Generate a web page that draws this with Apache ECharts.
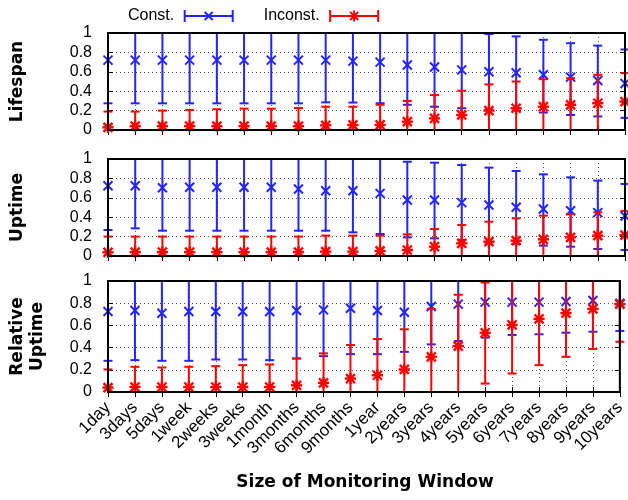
<!DOCTYPE html>
<html>
<head>
<meta charset="utf-8">
<script src="https://cdn.jsdelivr.net/npm/echarts@6/dist/echarts.min.js"></script>
<style>
html,body{margin:0;padding:0;background:#fff;}
#c{width:628px;height:500px;}
</style>
</head>
<body>
<div id="c"></div>
<script>
// ---------------- DATA ----------------
const categories = ['1day','3days','5days','1week','2weeks','3weeks','1month','3months','6months','9months','1year','2years','3years','4years','5years','6years','7years','8years','9years','10years'];
const yTickLabels = ['0','0.2','0.4','0.6','0.8','1'];
const seriesNames = ['Const.','Inconst.'];
const panelNames = ['Lifespan','Uptime','Relative\nUptime'];
const xTitle = 'Size of Monitoring Window';

// Lifespan
const lifespanConstMean  = [0.72,0.72,0.72,0.72,0.72,0.72,0.72,0.72,0.72,0.71,0.70,0.67,0.65,0.62,0.60,0.59,0.57,0.545,0.51,0.48];
const lifespanConstLow   = [0.275,0.275,0.275,0.275,0.275,0.275,0.275,0.275,0.285,0.283,0.276,0.26,0.24,0.225,0.21,0.20,0.18,0.155,0.14,0.125];
const lifespanConstHigh  = [1.17,1.17,1.17,1.17,1.17,1.17,1.17,1.17,1.16,1.14,1.12,1.08,1.06,1.02,0.99,0.965,0.93,0.895,0.87,0.83];
const lifespanInconstMean = [0.028,0.04,0.04,0.04,0.04,0.04,0.04,0.04,0.048,0.052,0.052,0.086,0.12,0.155,0.20,0.224,0.24,0.26,0.276,0.293];
const lifespanInconstLow  = [-0.134,-0.11,-0.12,-0.127,-0.134,-0.14,-0.14,-0.147,-0.144,-0.136,-0.156,-0.128,-0.12,-0.095,-0.07,-0.052,-0.044,-0.014,-0.017,-0.01];
const lifespanInconstHigh = [0.19,0.19,0.20,0.207,0.214,0.22,0.22,0.227,0.24,0.24,0.26,0.30,0.36,0.405,0.47,0.50,0.524,0.534,0.569,0.586];

// Uptime
const uptimeConstMean  = [0.725,0.725,0.704,0.708,0.708,0.708,0.708,0.69,0.673,0.673,0.646,0.577,0.577,0.55,0.526,0.502,0.485,0.467,0.447,0.412];
const uptimeConstLow   = [0.268,0.285,0.261,0.261,0.261,0.261,0.261,0.261,0.261,0.244,0.227,0.192,0.182,0.165,0.14,0.125,0.107,0.096,0.072,0.062];
const uptimeConstHigh  = [1.18,1.165,1.147,1.155,1.155,1.155,1.155,1.12,1.085,1.10,1.065,0.972,0.962,0.938,0.911,0.876,0.842,0.811,0.777,0.742];
const uptimeInconstMean = [0.038,0.04,0.04,0.04,0.04,0.04,0.04,0.04,0.045,0.045,0.052,0.062,0.096,0.131,0.148,0.158,0.172,0.192,0.21,0.216];
const uptimeInconstLow  = [-0.124,-0.12,-0.12,-0.12,-0.12,-0.12,-0.12,-0.12,-0.12,-0.12,-0.106,-0.099,-0.086,-0.058,-0.058,-0.072,-0.072,-0.049,-0.03,-0.032];
const uptimeInconstHigh = [0.20,0.20,0.20,0.20,0.20,0.20,0.20,0.20,0.21,0.21,0.21,0.223,0.278,0.32,0.354,0.388,0.416,0.433,0.45,0.464];

// Relative Uptime
const relConstMean  = [0.725,0.734,0.71,0.725,0.725,0.725,0.725,0.734,0.74,0.755,0.734,0.719,0.77,0.792,0.81,0.81,0.81,0.815,0.824,0.80];
const relConstLow   = [0.281,0.287,0.281,0.281,0.293,0.293,0.287,0.302,0.323,0.341,0.341,0.362,0.429,0.459,0.49,0.514,0.52,0.534,0.543,0.55];
const relConstHigh  = [1.17,1.18,1.14,1.17,1.157,1.157,1.163,1.166,1.157,1.17,1.127,1.076,1.11,1.125,1.13,1.106,1.10,1.096,1.105,1.05];
const relInconstMean = [0.04,0.045,0.045,0.045,0.045,0.045,0.045,0.06,0.082,0.121,0.151,0.203,0.317,0.414,0.534,0.604,0.659,0.71,0.749,0.792];
const relInconstLow  = [-0.123,-0.137,-0.131,-0.137,-0.143,-0.152,-0.158,-0.182,-0.184,-0.181,-0.175,-0.159,-0.115,-0.048,0.076,0.167,0.242,0.317,0.387,0.453];
const relInconstHigh = [0.203,0.227,0.221,0.227,0.233,0.242,0.248,0.302,0.348,0.423,0.477,0.565,0.749,0.876,0.987,1.04,1.076,1.10,1.11,1.13];

// ---------------- LAYOUT / STYLE ----------------
const BLUE = '#2424ff';
const RED = '#ff0000';
const FONT = '"Liberation Sans", Arial, Helvetica, sans-serif';
const BOLDFONT = '"DejaVu Sans", sans-serif';
const GRIDCOL = '#555';

const panels = [
  {top: 33,  height: 97,  nameX: 17.5, c: [lifespanConstMean, lifespanConstLow, lifespanConstHigh], i: [lifespanInconstMean, lifespanInconstLow, lifespanInconstHigh]},
  {top: 159, height: 97,  nameX: 17.5, c: [uptimeConstMean, uptimeConstLow, uptimeConstHigh], i: [uptimeInconstMean, uptimeInconstLow, uptimeInconstHigh]},
  {top: 281, height: 111, nameX: 27.5, c: [relConstMean, relConstLow, relConstHigh], i: [relInconstMean, relInconstLow, relInconstHigh]}
];

function errRenderer(color, star) {
  return function (params, api) {
    const x = api.value(0), m = api.value(1), lo = api.value(2), hi = api.value(3);
    const a = api.coord([x, Math.max(lo, 0)]);
    const b = api.coord([x, Math.min(hi, 1)]);
    const p = api.coord([x, m]);
    const st = {stroke: color, lineWidth: 2, fill: null};
    const cap = 4.5, r = 4.5;
    const ch = [{type: 'line', shape: {x1: a[0], y1: a[1], x2: b[0], y2: b[1]}, style: st}];
    if (lo >= 0) ch.push({type: 'line', shape: {x1: a[0] - cap, y1: a[1], x2: a[0] + cap, y2: a[1]}, style: st});
    if (hi <= 1) ch.push({type: 'line', shape: {x1: b[0] - cap, y1: b[1], x2: b[0] + cap, y2: b[1]}, style: st});
    const ms = {stroke: color, lineWidth: star ? 2.4 : 2, fill: null};
    ch.push({type: 'line', shape: {x1: p[0] - r, y1: p[1] - r, x2: p[0] + r, y2: p[1] + r}, style: ms});
    ch.push({type: 'line', shape: {x1: p[0] - r, y1: p[1] + r, x2: p[0] + r, y2: p[1] - r}, style: ms});
    if (star) {
      ch.push({type: 'line', shape: {x1: p[0], y1: p[1] - r * 1.25, x2: p[0], y2: p[1] + r * 1.25}, style: ms});
      ch.push({type: 'line', shape: {x1: p[0] - r * 1.25, y1: p[1], x2: p[0] + r * 1.25, y2: p[1]}, style: ms});
    }
    return {type: 'group', children: ch};
  };
}

const CONST_ICON = 'path://M0 0h2v12H0z M48 0h2v12h-2z M0 5h50v2H0z M20.3 2.7L21.7 1.3L29.7 9.3L28.3 10.7z M28.3 1.3L29.7 2.7L21.7 10.7L20.3 9.3z';
const INCONST_ICON = 'path://M0 0h2v12H0z M48 0h2v12h-2z M0 5h50v2H0z M20.3 2.7L21.7 1.3L29.7 9.3L28.3 10.7z M28.3 1.3L29.7 2.7L21.7 10.7L20.3 9.3z M24 0.5h2v11h-2z';

const grid = [], xAxis = [], yAxis = [], series = [], graphic = [];
panels.forEach((pn, k) => {
  grid.push({left: 108, right: 3, top: pn.top, height: pn.height, show: true, borderColor: '#000', borderWidth: 2, backgroundColor: 'transparent', z: 5});
  xAxis.push({
    type: 'category', gridIndex: k, data: categories, boundaryGap: false,
    axisLine: {show: false},
    axisTick: {show: true, inside: true, length: 5, interval: 0, lineStyle: {color: '#000'}},
    splitLine: {show: true, interval: 0, lineStyle: {color: GRIDCOL, type: [1, 3], width: 1}},
    axisLabel: k === 2 ? {show: true, interval: 0, rotate: 45, fontSize: 17, fontFamily: FONT, color: '#000', margin: 13} : {show: false}
  });
  xAxis.push({
    type: 'category', gridIndex: k, data: categories, boundaryGap: false, position: 'top',
    axisLine: {show: false},
    axisTick: {show: true, inside: true, length: 5, interval: 0, lineStyle: {color: '#000'}},
    splitLine: {show: false}, axisLabel: {show: false}
  });
  yAxis.push({
    type: 'value', gridIndex: k, min: 0, max: 1, interval: 0.2,
    axisLine: {show: false},
    axisTick: {show: true, inside: true, length: 5, lineStyle: {color: '#000'}},
    axisLabel: {fontSize: 16, fontFamily: FONT, color: '#000', margin: 16, formatter: v => yTickLabels[Math.round(v / 0.2)]},
    splitLine: {show: true, lineStyle: {color: GRIDCOL, type: [1, 3], width: 1}}
  });
  yAxis.push({
    type: 'value', gridIndex: k, min: 0, max: 1, interval: 0.2, position: 'right',
    axisLine: {show: false},
    axisTick: {show: true, inside: true, length: 5, lineStyle: {color: '#000'}},
    axisLabel: {show: false}, splitLine: {show: false}
  });
  series.push({
    type: 'custom', name: seriesNames[0], xAxisIndex: 2 * k, yAxisIndex: 2 * k,
    renderItem: errRenderer(BLUE, false), itemStyle: {color: BLUE}, encode: {x: 0, y: 1}, clip: false, z: 2,
    data: pn.c[0].map((m, j) => [j, m, pn.c[1][j], pn.c[2][j]])
  });
  series.push({
    type: 'custom', name: seriesNames[1], xAxisIndex: 2 * k, yAxisIndex: 2 * k,
    renderItem: errRenderer(RED, true), itemStyle: {color: RED}, encode: {x: 0, y: 1}, clip: false, z: 3,
    data: pn.i[0].map((m, j) => [j, m, pn.i[1][j], pn.i[2][j]])
  });
  graphic.push({
    type: 'text', x: pn.nameX, y: pn.top + pn.height / 2, rotation: Math.PI / 2,
    style: {text: panelNames[k], font: 'bold 17px ' + BOLDFONT, fill: '#000', align: 'center', verticalAlign: 'middle', lineHeight: 20}
  });
});
graphic.push({
  type: 'text', x: 365, y: 483,
  style: {text: xTitle, font: 'bold 17px ' + BOLDFONT, fill: '#000', align: 'center', verticalAlign: 'middle'}
});

const chart = echarts.init(document.getElementById('c'));
chart.setOption({
  animation: false,
  backgroundColor: '#fff',
  grid, xAxis, yAxis, series, graphic,
  legend: {
    top: 3, left: 123, itemWidth: 50, itemHeight: 12, itemGap: 30, align: 'right', selectedMode: false,
    formatter: n => n + ' ',
    textStyle: {fontFamily: FONT, fontSize: 16, color: '#000'},
    data: [{name: seriesNames[0], icon: CONST_ICON}, {name: seriesNames[1], icon: INCONST_ICON}]
  }
});
</script>
</body>
</html>
